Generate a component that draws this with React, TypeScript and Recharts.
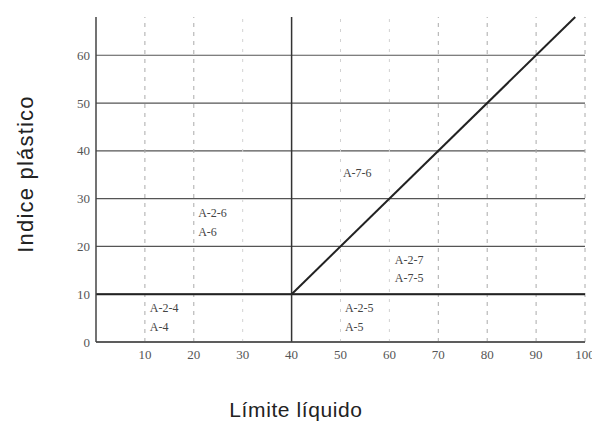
import React from 'react';
import {
  ComposedChart,
  XAxis,
  YAxis,
  CartesianGrid,
  ReferenceLine,
  Scatter,
  Label,
} from 'recharts';

// Axis ticks
const xTicks = [0, 10, 20, 30, 40, 50, 60, 70, 80, 90, 100];
const xTickLabels = ['', '10', '20', '30', '40', '50', '60', '70', '80', '90', '100'];
const yTicks = [0, 10, 20, 30, 40, 50, 60];
const yMax = 68;

// Dashed vertical guide lines (liquid limit)
const dashedX = [10, 20, 70, 80, 90, 100];
const faintX = [30, 50, 60];

// Boundary lines
const plBoundary = 10; // plasticity index = 10
const llBoundary = 40; // liquid limit = 40
const diagonalLL = [40, 98];
const diagonalPI = [10, 68];

// Zone labels
const zoneText = ['A-7-6', 'A-2-6', 'A-6', 'A-2-4', 'A-4', 'A-2-7', 'A-7-5', 'A-2-5', 'A-5'];
const zoneLL = [50.5, 20.9, 20.9, 11.0, 11.0, 61.1, 61.1, 50.9, 50.9];
const zonePI = [35.4, 27.0, 23.0, 7.1, 3.1, 17.2, 13.4, 7.1, 3.1];

const zoneData = zoneText.map((t, i) => ({ x: zoneLL[i], y: zonePI[i], text: t }));

const ZoneLabel = (props: any) => {
  const { cx, cy, payload } = props;
  return (
    <text
      x={cx}
      y={cy}
      dy="0.35em"
      textAnchor="start"
      fontFamily="'Liberation Serif', serif"
      fontSize={12}
      fill="#444"
    >
      {payload.text}
    </text>
  );
};

const XTitle = () => (
  <text
    x={296}
    y={417}
    textAnchor="middle"
    fontFamily="'Liberation Sans', Arial, sans-serif"
    fontSize={21}
    letterSpacing={0.6}
    fill="#222"
  >
    Límite líquido
  </text>
);

const YTitle = () => (
  <text
    x={0}
    y={0}
    transform="translate(33,174) rotate(-90)"
    textAnchor="middle"
    fontFamily="'Liberation Sans', Arial, sans-serif"
    fontSize={22}
    letterSpacing={1.2}
    fill="#222"
  >
    Indice plástico
  </text>
);

export default function App() {
  return (
    <div style={{ position: 'absolute', left: 0, top: 0, background: '#fff' }}>
      <ComposedChart
        width={592}
        height={427}
        margin={{ top: 17, right: 7, left: 0, bottom: 0 }}
      >
        <CartesianGrid
          vertical={false}
          horizontal
          stroke="#555"
          strokeWidth={1.2}
          horizontalValues={yTicks}
        />
        <XAxis
          type="number"
          dataKey="x"
          domain={[0, 100]}
          ticks={xTicks}
          tickFormatter={(v: number) => xTickLabels[xTicks.indexOf(v)]}
          height={85}
          tickLine={false}
          axisLine={{ stroke: '#444', strokeWidth: 1.5 }}
          tick={{ fontFamily: "'Liberation Serif', serif", fontSize: 13, fill: '#555' }}
          interval={0}
          allowDataOverflow
        >
          <Label content={<XTitle />} />
        </XAxis>
        <YAxis
          type="number"
          dataKey="y"
          domain={[0, yMax]}
          ticks={yTicks}
          width={96}
          tickLine={false}
          tickMargin={0}
          axisLine={{ stroke: '#444', strokeWidth: 1.5 }}
          tick={{ fontFamily: "'Liberation Serif', serif", fontSize: 13, fill: '#555' }}
          interval={0}
          allowDataOverflow
        >
          <Label content={<YTitle />} />
        </YAxis>
        {dashedX.map((v) => (
          <ReferenceLine
            key={v}
            x={v}
            stroke="#aaa"
            strokeWidth={1}
            strokeDasharray="4 5"
            ifOverflow="visible"
          />
        ))}
        {faintX.map((v) => (
          <ReferenceLine
            key={'f' + v}
            x={v}
            stroke="#d2d2d2"
            strokeWidth={1}
            strokeDasharray="3 7"
            ifOverflow="visible"
          />
        ))}
        <ReferenceLine y={plBoundary} stroke="#222" strokeWidth={2} />
        <ReferenceLine x={llBoundary} stroke="#333" strokeWidth={1.5} />
        <ReferenceLine
          segment={[
            { x: diagonalLL[0], y: diagonalPI[0] },
            { x: diagonalLL[1], y: diagonalPI[1] },
          ]}
          stroke="#222"
          strokeWidth={2}
          ifOverflow="visible"
        />
        <Scatter data={zoneData} shape={<ZoneLabel />} isAnimationActive={false} />
      </ComposedChart>
    </div>
  );
}
